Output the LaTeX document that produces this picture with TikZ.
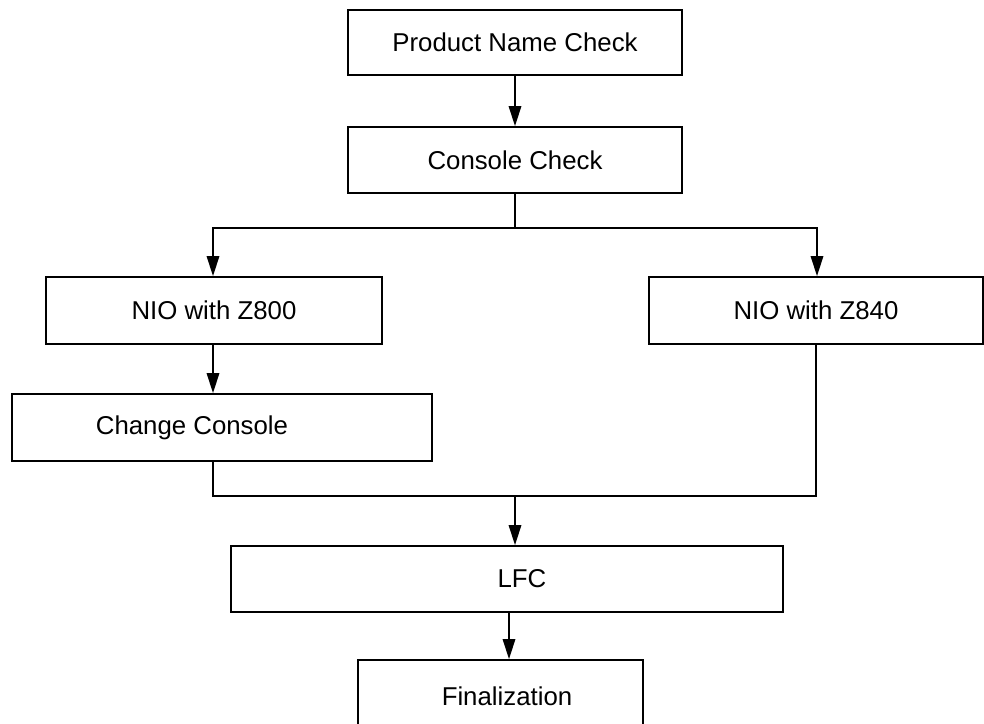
\documentclass[tikz,border=0pt]{standalone}
\usepackage{fontspec}
\setmainfont{Liberation Sans}
\usetikzlibrary{arrows.meta}
\begin{document}
\begin{tikzpicture}[x=1pt,y=-1pt,
  box/.style={draw=black,line width=1.8pt,rectangle,inner sep=0pt,
    font=\fontsize{25.8}{30}\selectfont,anchor=center},
  link/.style={line width=1.6pt,draw=black},
  arr/.style={link,-{Triangle[length=20pt,width=12.5pt]}}]
\useasboundingbox (0,0) rectangle (984,723);
\node[box,minimum width=334pt,minimum height=65pt] (pnc) at (515,42.5) {Product Name Check};
\node[box,minimum width=334pt,minimum height=66pt] (cc) at (515,160) {Console Check};
\node[box,minimum width=336pt,minimum height=67pt] (z800) at (214,310.5) {NIO with Z800};
\node[box,minimum width=334pt,minimum height=67pt] (z840) at (816,310.5) {NIO with Z840};
\node[box,minimum width=420pt,minimum height=67pt] (chg) at (222,427.5) {Change Console\kern60pt\relax};
\node[box,minimum width=552pt,minimum height=66pt] (lfc) at (507,579) {\kern30pt LFC};
\node[box,minimum width=285pt,minimum height=72pt] (fin) at (500.5,696) {\kern13pt Finalization};
\coordinate (j1) at (515,228);
\coordinate (j2) at (515,496);
\draw[arr] (pnc.south) -- (cc.north);
\draw[link] (cc.south) -- (j1);
\draw[arr] (j1) -| ([xshift=-1pt]z800.north);
\draw[arr] (j1) -| ([xshift=1pt]z840.north);
\draw[arr] ([xshift=-1pt]z800.south) -- ([xshift=-1pt]z800.south |- chg.north);
\draw[link] ([xshift=-1pt]z800.south |- chg.south) -- ([xshift=-1pt]z800.south |- j2) -- (z840.south |- j2) -- (z840.south);
\draw[arr] (j2) -- (j2 |- lfc.north);
\draw[arr] ([xshift=2pt]lfc.south) -- ([xshift=2pt]lfc.south |- fin.north);
\end{tikzpicture}
\end{document}
